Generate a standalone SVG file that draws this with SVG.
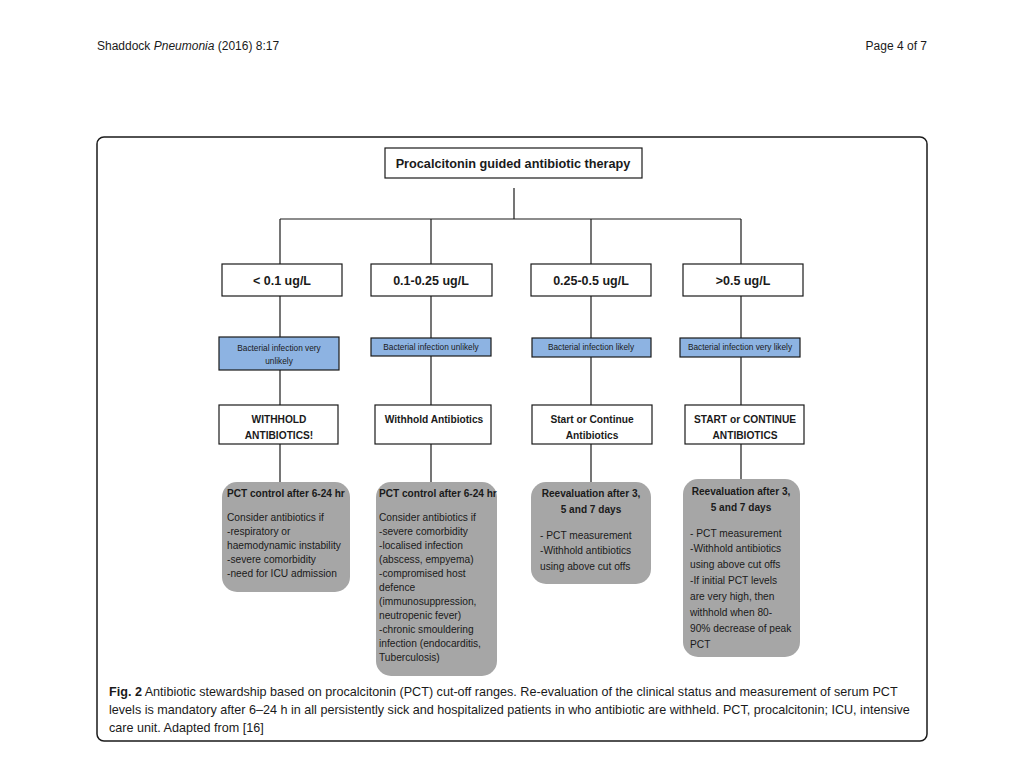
<svg xmlns="http://www.w3.org/2000/svg" width="1024" height="767" viewBox="0 0 1024 767">
<style>
text{font-family:"Liberation Sans","Open Sans",sans-serif;fill:#1a1a1a}
.hdr{font-size:12px}
.box{fill:#fff;stroke:#1a1a1a;stroke-width:1.2}
.blue{fill:#8db3e2;stroke:#1a1a1a;stroke-width:1.2}
.gray{fill:#a6a6a6;stroke:none}
.t13{font-size:12.5px;font-weight:bold;text-anchor:middle}
.t14{font-size:12.7px;font-weight:bold;text-anchor:middle}
.t11{font-size:10.2px;font-weight:bold;text-anchor:middle}
.t7{font-size:8.3px;text-anchor:middle}
.gt{font-size:10.2px}
.gb{font-size:10.1px;font-weight:bold}
.cap{font-size:12.6px}
.conn line{stroke:#1a1a1a;stroke-width:1.2}
</style>
<rect width="1024" height="767" fill="#fff"/>
<text class="hdr" x="97" y="50">Shaddock <tspan font-style="italic">Pneumonia</tspan>  (2016) 8:17</text>
<text class="hdr" x="927" y="50" text-anchor="end">Page 4 of 7</text>
<rect x="97" y="137" width="830" height="604" rx="7" fill="none" stroke="#1a1a1a" stroke-width="1.5"/>

<g class="conn" id="connectors">
<line x1="514" y1="188" x2="514" y2="219"/>
<line x1="280" y1="219" x2="741" y2="219"/>
<line x1="280" y1="219" x2="280" y2="264"/>
<line x1="431" y1="219" x2="431" y2="264"/>
<line x1="591" y1="219" x2="591" y2="264"/>
<line x1="741" y1="219" x2="741" y2="264"/>
<line x1="280" y1="296" x2="280" y2="337"/>
<line x1="431" y1="296" x2="431" y2="338"/>
<line x1="591" y1="296" x2="591" y2="338"/>
<line x1="741" y1="296" x2="741" y2="338"/>
<line x1="280" y1="370" x2="280" y2="405"/>
<line x1="431" y1="356" x2="431" y2="405"/>
<line x1="591" y1="357" x2="591" y2="405"/>
<line x1="741" y1="357" x2="741" y2="405"/>
<line x1="280" y1="444" x2="280" y2="482"/>
<line x1="431" y1="444" x2="431" y2="482"/>
<line x1="591" y1="444" x2="591" y2="482"/>
<line x1="741" y1="444" x2="741" y2="479"/>
</g>

<g id="root">
<rect class="box" x="385" y="148" width="257" height="30"/>
<text class="t14" x="513" y="168">Procalcitonin guided antibiotic therapy</text>
</g>

<g id="level1"><rect class="box" x="222" y="264" width="120" height="32"/><text class="t13" x="282" y="285">&lt; 0.1 ug/L</text></g>
<g id="level2"><rect class="box" x="371" y="264" width="121" height="32"/><text class="t13" x="431" y="285">0.1-0.25 ug/L</text></g>
<g id="level3"><rect class="box" x="531" y="264" width="120" height="32"/><text class="t13" x="591" y="285">0.25-0.5 ug/L</text></g>
<g id="level4"><rect class="box" x="683" y="264" width="120" height="32"/><text class="t13" x="743" y="285">&gt;0.5 ug/L</text></g>

<g id="likely1"><rect class="blue" x="219" y="337" width="120" height="33"/><text class="t7" x="279" y="351">Bacterial infection very</text><text class="t7" x="279" y="364">unlikely</text></g>
<g id="likely2"><rect class="blue" x="371" y="338" width="120" height="18"/><text class="t7" x="431" y="350">Bacterial infection unlikely</text></g>
<g id="likely3"><rect class="blue" x="532" y="338" width="119" height="19"/><text class="t7" x="591" y="350">Bacterial infection likely</text></g>
<g id="likely4"><rect class="blue" x="680" y="338" width="120" height="19"/><text class="t7" x="740" y="350">Bacterial infection very likely</text></g>

<g id="action1"><rect class="box" x="219" y="405" width="119" height="39"/><text class="t11" x="279" y="423">WITHHOLD</text><text class="t11" x="279" y="439">ANTIBIOTICS!</text></g>
<g id="action2"><rect class="box" x="375" y="405" width="116" height="39"/><text class="t11" x="434" y="423">Withhold Antibiotics</text></g>
<g id="action3"><rect class="box" x="532" y="405" width="120" height="39"/><text class="t11" x="592" y="423">Start or Continue</text><text class="t11" x="592" y="439">Antibiotics</text></g>
<g id="action4"><rect class="box" x="685" y="405" width="119" height="39"/><text class="t11" x="745" y="423">START or CONTINUE</text><text class="t11" x="745" y="439">ANTIBIOTICS</text></g>

<g id="followup1">
<rect class="gray" x="222" y="482" width="128" height="110" rx="15"/>
<text class="gb" x="227" y="497">PCT control after 6-24 hr</text>
<text class="gt" x="227" y="521">Consider antibiotics if</text>
<text class="gt" x="227" y="535">-respiratory or</text>
<text class="gt" x="227" y="549">haemodynamic instability</text>
<text class="gt" x="227" y="563">-severe comorbidity</text>
<text class="gt" x="227" y="577">-need for ICU admission</text>
</g>
<g id="followup2">
<rect class="gray" x="376" y="482" width="121" height="194" rx="15"/>
<text class="gb" x="379" y="497">PCT control after 6-24 hr</text>
<text class="gt" x="379" y="521">Consider antibiotics if</text>
<text class="gt" x="379" y="535">-severe comorbidity</text>
<text class="gt" x="379" y="549">-localised infection</text>
<text class="gt" x="379" y="563">(abscess, empyema)</text>
<text class="gt" x="379" y="577">-compromised host</text>
<text class="gt" x="379" y="591">defence</text>
<text class="gt" x="379" y="605">(immunosuppression,</text>
<text class="gt" x="379" y="619">neutropenic fever)</text>
<text class="gt" x="379" y="633">-chronic smouldering</text>
<text class="gt" x="379" y="647">infection (endocarditis,</text>
<text class="gt" x="379" y="661">Tuberculosis)</text>
</g>
<g id="followup3">
<rect class="gray" x="531" y="482" width="120" height="102" rx="15"/>
<text class="gb" x="591" y="497" text-anchor="middle">Reevaluation after 3,</text>
<text class="gb" x="591" y="513" text-anchor="middle">5 and 7 days</text>
<text class="gt" x="540" y="539">- PCT measurement</text>
<text class="gt" x="540" y="554">-Withhold antibiotics</text>
<text class="gt" x="540" y="570">using above cut offs</text>
</g>
<g id="followup4">
<rect class="gray" x="683" y="479" width="117" height="178" rx="15"/>
<text class="gb" x="741" y="495" text-anchor="middle">Reevaluation after 3,</text>
<text class="gb" x="741" y="511" text-anchor="middle">5 and 7 days</text>
<text class="gt" x="690" y="537">- PCT measurement</text>
<text class="gt" x="690" y="552">-Withhold antibiotics</text>
<text class="gt" x="690" y="568">using above cut offs</text>
<text class="gt" x="690" y="584">-If initial PCT levels</text>
<text class="gt" x="690" y="600">are very high, then</text>
<text class="gt" x="690" y="616">withhold when 80-</text>
<text class="gt" x="690" y="632">90% decrease of peak</text>
<text class="gt" x="690" y="648">PCT</text>
</g>

<g id="caption">
<text class="cap" x="109" y="696"><tspan font-weight="bold">Fig. 2</tspan> Antibiotic stewardship based on procalcitonin (PCT) cut-off ranges. Re-evaluation of the clinical status and measurement of serum PCT</text>
<text class="cap" x="109" y="714">levels is mandatory after 6–24 h in all persistently sick and hospitalized patients in who antibiotic are withheld. PCT, procalcitonin; ICU, intensive</text>
<text class="cap" x="109" y="732">care unit. Adapted from [16]</text>
</g>
</svg>
